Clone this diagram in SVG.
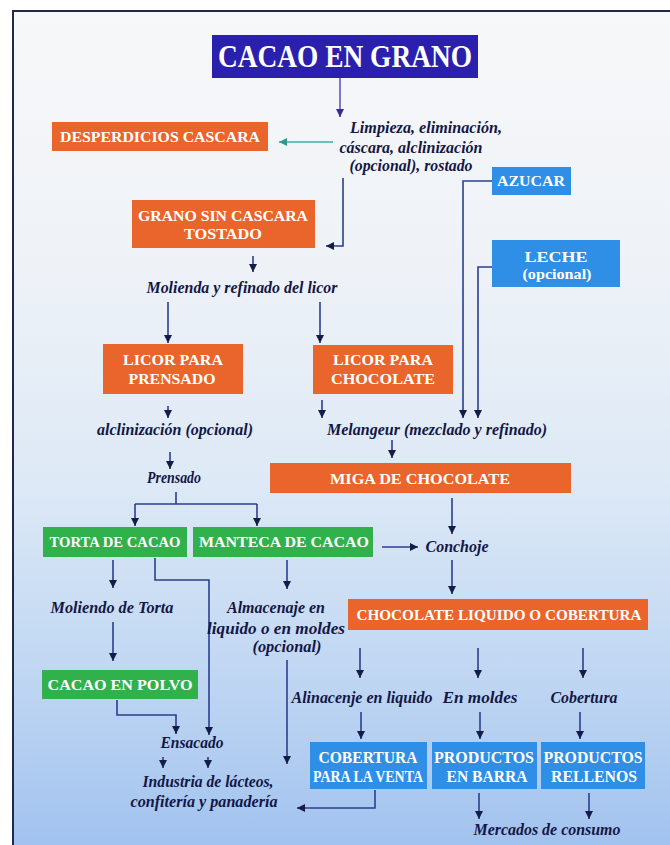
<svg xmlns="http://www.w3.org/2000/svg" width="670" height="845" viewBox="0 0 670 845">
<defs>
<linearGradient id="bg" x1="0" y1="0" x2="0" y2="1">
<stop offset="0" stop-color="#f7f8f9"/>
<stop offset="0.3" stop-color="#eef2f7"/>
<stop offset="0.55" stop-color="#dde9f6"/>
<stop offset="0.8" stop-color="#bcd4f2"/>
<stop offset="1" stop-color="#9dbfee"/>
</linearGradient>
<marker id="ah" viewBox="0 0 10 10" refX="10" refY="5" markerWidth="8" markerHeight="8" markerUnits="userSpaceOnUse" orient="auto">
<path d="M0,0 L10,5 L0,10 z" fill="#141c48"/>
</marker>
<marker id="ahp" viewBox="0 0 10 10" refX="10" refY="5" markerWidth="8" markerHeight="8" markerUnits="userSpaceOnUse" orient="auto">
<path d="M0,0 L10,5 L0,10 z" fill="#3a2a90"/>
</marker>
<marker id="aht" viewBox="0 0 10 10" refX="10" refY="5" markerWidth="8" markerHeight="8" markerUnits="userSpaceOnUse" orient="auto">
<path d="M0,0 L10,5 L0,10 z" fill="#2a9a90"/>
</marker>
</defs>
<style>
.box text{font-family:"Liberation Serif","Times New Roman",serif;font-weight:bold;fill:#ffffff;text-anchor:middle}
.bt{font-size:15px}
.lbl{font-family:"Liberation Serif","Times New Roman",serif;font-weight:bold;font-style:italic;font-size:16px;fill:#131746;text-anchor:middle}
.or{fill:#e9652b}
.gr{fill:#31b14c}
.bl{fill:#2f8ee6}
.nv{fill:#2b1fae}
.c{fill:none;stroke:#2b3f8e;stroke-width:1.6}
.ca{fill:none;stroke:#2b3f8e;stroke-width:1.6;marker-end:url(#ah)}
</style>
<rect x="0" y="0" width="670" height="845" fill="#ffffff"/>
<rect x="13" y="11" width="700" height="860" fill="url(#bg)" stroke="#1f2a4a" stroke-width="2"/>

<g id="connectors">
<path d="M340,78 V117" fill="none" stroke="#6a52c4" stroke-width="1.6" marker-end="url(#ahp)"/>
<path d="M333,142 H279" fill="none" stroke="#3ab0a6" stroke-width="1.6" marker-end="url(#aht)"/>
<path class="ca" d="M343,178 V246 H326"/>
<path class="ca" d="M253,256 V272"/>
<path class="ca" d="M168,302 V343"/>
<path class="ca" d="M320,302 V343"/>
<path class="ca" d="M168,406 V418"/>
<path class="ca" d="M322,400 V418"/>
<path class="ca" d="M492,181 H463 V418"/>
<path class="ca" d="M492,267 H478 V418"/>
<path class="ca" d="M392,440 V458"/>
<path class="ca" d="M170,452 V469"/>
<path class="c" d="M176,492 V504 M135,504 H257"/>
<path class="ca" d="M135,504 V526"/>
<path class="ca" d="M257,504 V526"/>
<path class="ca" d="M452,498 V534"/>
<path class="ca" d="M382,547 H418"/>
<path class="ca" d="M113,560 V588"/>
<path class="ca" d="M155,558 V580 H209 V735"/>
<path class="ca" d="M287,560 V589"/>
<path class="ca" d="M113,622 V661"/>
<path class="ca" d="M117,700 V715 H176 V734"/>
<path class="ca" d="M287,660 V764"/>
<path class="ca" d="M163,757 V768"/>
<path class="ca" d="M208,757 V768"/>
<path class="ca" d="M452,560 V594"/>
<path class="ca" d="M360,648 V678"/>
<path class="ca" d="M478,648 V678"/>
<path class="ca" d="M583,648 V678"/>
<path class="ca" d="M361,712 V739"/>
<path class="ca" d="M480,712 V739"/>
<path class="ca" d="M580,712 V739"/>
<path class="ca" d="M375,790 V808 H297"/>
<path class="ca" d="M479,793 V819"/>
<path class="ca" d="M589,793 V819"/>
</g>

<g id="cacao-en-grano" class="box"><rect class="nv" x="212" y="35" width="266" height="43"/><text x="345" y="67" font-size="31" textLength="254" lengthAdjust="spacingAndGlyphs">CACAO EN GRANO</text></g>
<g id="desperdicios" class="box"><rect class="or" x="52" y="122" width="216" height="29"/><text class="bt" x="160" y="142" textLength="200" lengthAdjust="spacingAndGlyphs">DESPERDICIOS CASCARA</text></g>
<g id="limpieza"><text class="lbl" x="426" y="133" textLength="152" lengthAdjust="spacingAndGlyphs">Limpieza, eliminación,</text><text class="lbl" x="411" y="153" textLength="143" lengthAdjust="spacingAndGlyphs">cáscara, alclinización</text><text class="lbl" x="411" y="171" textLength="123" lengthAdjust="spacingAndGlyphs">(opcional), rostado</text></g>
<g id="grano-sin-cascara" class="box"><rect class="or" x="132" y="200" width="183" height="48"/><text class="bt" x="223" y="221" textLength="170" lengthAdjust="spacingAndGlyphs">GRANO SIN CASCARA</text><text class="bt" x="223" y="239" textLength="78" lengthAdjust="spacingAndGlyphs">TOSTADO</text></g>
<g id="azucar" class="box"><rect class="bl" x="492" y="167" width="79" height="28"/><text class="bt" x="531" y="186" textLength="68" lengthAdjust="spacingAndGlyphs">AZUCAR</text></g>
<g id="leche" class="box"><rect class="bl" x="492" y="240" width="128" height="47"/><text class="bt" x="556" y="262" textLength="63" lengthAdjust="spacingAndGlyphs">LECHE</text><text class="bt" x="557" y="279" textLength="69" lengthAdjust="spacingAndGlyphs">(opcional)</text></g>
<g id="molienda"><text class="lbl" x="242" y="293" textLength="191" lengthAdjust="spacingAndGlyphs">Molienda y refinado del licor</text></g>
<g id="licor-prensado" class="box"><rect class="or" x="103" y="344" width="140" height="50"/><text class="bt" x="173" y="365" textLength="100" lengthAdjust="spacingAndGlyphs">LICOR PARA</text><text class="bt" x="172" y="384" textLength="87" lengthAdjust="spacingAndGlyphs">PRENSADO</text></g>
<g id="licor-chocolate" class="box"><rect class="or" x="313" y="345" width="140" height="49"/><text class="bt" x="383" y="365" textLength="100" lengthAdjust="spacingAndGlyphs">LICOR PARA</text><text class="bt" x="383" y="384" textLength="104" lengthAdjust="spacingAndGlyphs">CHOCOLATE</text></g>
<g id="alclinizacion"><text class="lbl" x="175" y="435" textLength="156" lengthAdjust="spacingAndGlyphs">alclinización (opcional)</text></g>
<g id="melangeur"><text class="lbl" x="437" y="435" textLength="220" lengthAdjust="spacingAndGlyphs">Melangeur (mezclado y refinado)</text></g>
<g id="prensado"><text class="lbl" x="174" y="483" font-size="17" textLength="54" lengthAdjust="spacingAndGlyphs">Prensado</text></g>
<g id="miga" class="box"><rect class="or" x="270" y="463" width="301" height="30"/><text class="bt" x="420" y="484" textLength="180" lengthAdjust="spacingAndGlyphs">MIGA DE CHOCOLATE</text></g>
<g id="torta" class="box"><rect class="gr" x="43" y="527" width="144" height="30"/><text class="bt" x="115" y="547" textLength="131" lengthAdjust="spacingAndGlyphs">TORTA DE CACAO</text></g>
<g id="manteca" class="box"><rect class="gr" x="193" y="527" width="180" height="30"/><text class="bt" x="284" y="547" textLength="170" lengthAdjust="spacingAndGlyphs">MANTECA DE CACAO</text></g>
<g id="conchoje"><text class="lbl" x="457" y="552" font-size="17" textLength="63" lengthAdjust="spacingAndGlyphs">Conchoje</text></g>
<g id="moliendo-torta"><text class="lbl" x="112" y="613" textLength="123" lengthAdjust="spacingAndGlyphs">Moliendo de Torta</text></g>
<g id="almacenaje"><text class="lbl" x="276" y="613" textLength="98" lengthAdjust="spacingAndGlyphs">Almacenaje en</text><text class="lbl" x="276" y="634" textLength="138" lengthAdjust="spacingAndGlyphs">liquido o en moldes</text><text class="lbl" x="287" y="652" textLength="69" lengthAdjust="spacingAndGlyphs">(opcional)</text></g>
<g id="chocolate-liquido" class="box"><rect class="or" x="348" y="599" width="300" height="31"/><text x="499" y="620" font-size="14" textLength="285" lengthAdjust="spacingAndGlyphs">CHOCOLATE LIQUIDO O COBERTURA</text></g>
<g id="cacao-polvo" class="box"><rect class="gr" x="42" y="670" width="156" height="29"/><text class="bt" x="120" y="690" textLength="145" lengthAdjust="spacingAndGlyphs">CACAO EN POLVO</text></g>
<g id="alinacenje"><text class="lbl" x="362" y="703" textLength="141" lengthAdjust="spacingAndGlyphs">Alinacenje en liquido</text></g>
<g id="en-moldes"><text class="lbl" x="480" y="703" textLength="75" lengthAdjust="spacingAndGlyphs">En moldes</text></g>
<g id="cobertura-lbl"><text class="lbl" x="584" y="703" textLength="67" lengthAdjust="spacingAndGlyphs">Cobertura</text></g>
<g id="ensacado"><text class="lbl" x="192" y="748" textLength="63" lengthAdjust="spacingAndGlyphs">Ensacado</text></g>
<g id="cobertura-venta" class="box"><rect class="bl" x="310" y="742" width="117" height="47"/><text x="368" y="763" font-size="16" textLength="99" lengthAdjust="spacingAndGlyphs">COBERTURA</text><text x="368" y="782" font-size="16" textLength="110" lengthAdjust="spacingAndGlyphs">PARA LA VENTA</text></g>
<g id="productos-barra" class="box"><rect class="bl" x="432" y="742" width="105" height="47"/><text x="484" y="763" font-size="16" textLength="100" lengthAdjust="spacingAndGlyphs">PRODUCTOS</text><text x="487" y="782" font-size="16" textLength="81" lengthAdjust="spacingAndGlyphs">EN BARRA</text></g>
<g id="productos-rellenos" class="box"><rect class="bl" x="541" y="742" width="104" height="47"/><text x="593" y="763" font-size="16" textLength="99" lengthAdjust="spacingAndGlyphs">PRODUCTOS</text><text x="594" y="782" font-size="16" textLength="86" lengthAdjust="spacingAndGlyphs">RELLENOS</text></g>
<g id="industria"><text class="lbl" x="208" y="787" textLength="131" lengthAdjust="spacingAndGlyphs">Industria de lácteos,</text><text class="lbl" x="204" y="807" textLength="147" lengthAdjust="spacingAndGlyphs">confitería y panadería</text></g>
<g id="mercados"><text class="lbl" x="547" y="835" textLength="147" lengthAdjust="spacingAndGlyphs">Mercados de consumo</text></g>
</svg>
